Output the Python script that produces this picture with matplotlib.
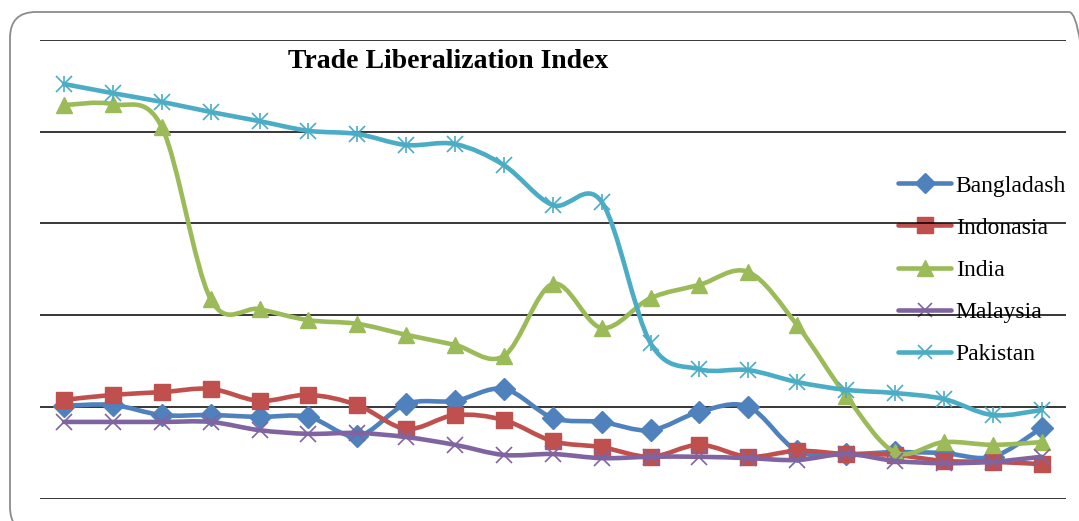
import matplotlib
matplotlib.use('Agg')
import matplotlib.pyplot as plt
from matplotlib.path import Path
from matplotlib.patches import PathPatch, FancyBboxPatch
from matplotlib.lines import Line2D
from matplotlib.transforms import IdentityTransform

plt.rcParams['font.family'] = ['Liberation Serif', 'DejaVu Serif']

# data (gridlines taken as 0..100 step 20)
years = list(range(21))
bangladash = [20.2, 20.4, 18.2, 18.2, 17.8, 17.8, 13.6, 20.6, 21.3, 23.9, 17.6,
              16.7, 14.9, 18.9, 20.0, 10.4, 9.7, 10.1, 9.9, 9.1, 15.4]
indonasia = [21.5, 22.6, 23.2, 23.9, 21.3, 22.6, 20.4, 15.2, 18.2, 17.1, 12.5,
             11.2, 9.1, 11.7, 9.1, 10.4, 9.7, 9.5, 8.2, 8.0, 7.5]
india = [85.8, 86.0, 81.0, 43.5, 41.3, 38.9, 38.1, 35.7, 33.5, 31.1, 46.8,
         37.2, 43.7, 46.6, 49.4, 37.8, 22.4, 10.1, 12.3, 11.7, 12.3]
malaysia = [16.7, 16.7, 16.7, 16.7, 14.9, 14.1, 14.3, 13.4, 11.7, 9.5, 9.7,
            8.8, 9.1, 9.1, 8.8, 8.4, 9.7, 8.2, 7.7, 8.0, 9.1]
pakistan = [90.4, 88.4, 86.5, 84.3, 82.3, 80.2, 79.5, 77.1, 77.3, 72.7, 64.0,
            64.7, 33.9, 28.2, 28.0, 25.4, 23.7, 23.0, 21.7, 18.2, 19.3]

names = ['Bangladash', 'Indonasia', 'India', 'Malaysia', 'Pakistan']
series = [bangladash, indonasia, india, malaysia, pakistan]
colors = ['#4F81BD', '#C0504D', '#9BBB59', '#8064A2', '#4BACC6']
markers = ['D', 's', '^', 'x', 'x']
msizes = [11, 12, 12, 11, 11]


def smooth_path(xs, ys):
    # excel-like smoothed line as cubic bezier segments
    pts = list(zip(xs, ys))
    n = len(pts)
    verts = [pts[0]]
    codes = [Path.MOVETO]
    for i in range(n - 1):
        p0 = pts[max(i - 1, 0)]
        p1 = pts[i]
        p2 = pts[i + 1]
        p3 = pts[min(i + 2, n - 1)]
        c1 = (p1[0] + (p2[0] - p0[0]) / 6, p1[1] + (p2[1] - p0[1]) / 6)
        c2 = (p2[0] - (p3[0] - p1[0]) / 6, p2[1] - (p3[1] - p1[1]) / 6)
        verts += [c1, c2, p2]
        codes += [Path.CURVE4] * 3
    return Path(verts, codes)


fig = plt.figure(figsize=(10.79, 5.21), dpi=100)
ax = fig.add_axes([39.6 / 1079, 1 - 498.5 / 521, (1066 - 39.6) / 1079, (498.5 - 40) / 521])

for yg in range(0, 101, 20):
    ax.axhline(yg, color='black', lw=1.1, zorder=2)

handles = []
for k, (name, vals, c, m, ms) in enumerate(zip(names, series, colors, markers, msizes)):
    z = 3 + k
    patch = PathPatch(smooth_path(years, vals), fill=False, edgecolor=c, lw=3.3,
                      capstyle='round', joinstyle='round', zorder=z)
    ax.add_patch(patch)
    mew = 1.2 if m == 'x' else 1
    ax.plot(years, vals, ls='none', marker=m, ms=ms, color=c, mec=c, mew=mew, zorder=z)
    if name == 'Pakistan':
        ax.plot(years, vals, ls='none', marker='|', ms=ms + 1, color=c, mew=1.2, zorder=z)
    handles.append(Line2D([], [], color=c, lw=3.3, marker=m, ms=ms - 1, mec=c, mew=mew,
                          solid_capstyle='round'))

ax.set_xlim(-0.5, 20.5)
ax.set_ylim(0, 100)
ax.set_xticks([])
ax.set_yticks([])
for s in ax.spines.values():
    s.set_visible(False)
ax.patch.set_alpha(0)

fig.text(448 / 1079, 1 - 61 / 521, 'Trade Liberalization Index', ha='center', va='center',
         fontsize=20, fontweight='bold')

leg = ax.legend(handles, names, loc='center left', bbox_to_anchor=(898 / 1079, 1 - 270 / 521),
                bbox_transform=fig.transFigure, frameon=False, fontsize=17,
                handlelength=2.25, handletextpad=0.2, labelspacing=0.87,
                borderpad=0, borderaxespad=0)
leg.set_zorder(1)  # gridlines run over the legend text

border = FancyBboxPatch((10, -12), 1085, 521, boxstyle='round,pad=0,rounding_size=26',
                        transform=IdentityTransform(), fill=False, edgecolor='#8c8c8c', lw=1.3)
fig.patches.append(border)

fig.savefig('out.png', dpi=100)
